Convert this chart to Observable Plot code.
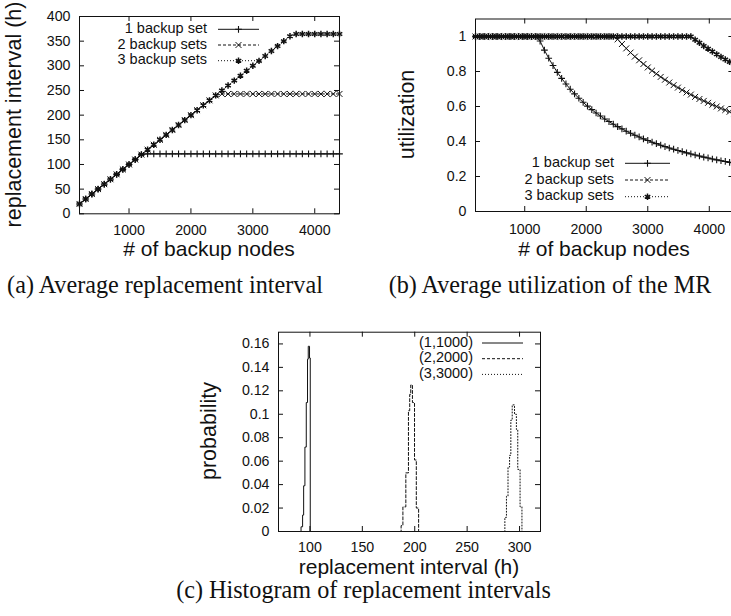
<!DOCTYPE html>
<html><head><meta charset="utf-8">
<script src="https://cdn.jsdelivr.net/npm/d3@7"></script>
<script src="https://cdn.jsdelivr.net/npm/@observablehq/plot@0.6"></script>
<style>
html,body{margin:0;padding:0;background:#fff;overflow:hidden;}
#page{position:relative;width:731px;height:616px;overflow:hidden;background:#fff;}
.panel{position:absolute;}
.panel svg{max-width:none !important;}
#overlay{position:absolute;left:0;top:0;}
</style></head><body><div id="page"></div>
<script>
// ---------- data: (a) average replacement interval ----------
const nodesA = [200,300,400,500,600,700,800,900,1000,1100,1200,1300,1400,1500,1600,1700,1800,1900,2000,2100,2200,2300,2400,2500,2600,2700,2800,2900,3000,3100,3200,3300,3400,3500,3600,3700,3800,3900,4000,4100,4200,4300,4400];
const intervalA1 = [20,30,40,50,60,70,80,90,100,110,120,121.5,121.5,121.5,121.5,121.5,121.5,121.5,121.5,121.5,121.5,121.5,121.5,121.5,121.5,121.5,121.5,121.5,121.5,121.5,121.5,121.5,121.5,121.5,121.5,121.5,121.5,121.5,121.5,121.5,121.5,121.5,121.5];
const intervalA2 = [20,30,40,50,60,70,80,90,100,110,120,130,140,150,160,170,180,190,200,210,220,230,240,243,243,243,243,243,243,243,243,243,243,243,243,243,243,243,243,243,243,243,243];
const intervalA3 = [20,30,40,50,60,70,80,90,100,110,120,130,140,150,160,170,180,190,200,210,220,230,240,250,260,270,280,290,300,310,320,330,340,350,360,364.5,364.5,364.5,364.5,364.5,364.5,364.5,364.5];
const xTicksA = [1000,2000,3000,4000];
const yTicksA = [0,50,100,150,200,250,300,350,400];

// ---------- data: (b) average utilization of the MR ----------
const nodesB = [200,270,340,410,480,550,620,690,760,830,900,970,1040,1110,1180,1250,1320,1390,1460,1530,1600,1670,1740,1810,1880,1950,2020,2090,2160,2230,2300,2370,2440,2510,2580,2650,2720,2790,2860,2930,3000,3070,3140,3210,3280,3350,3420,3490,3560,3630,3700,3770,3840,3910,3980,4050,4120,4190,4260,4330,4400];
const utilB1 = [1,1,1,1,1,1,1,1,1,1,1,1,1,1,1,0.974,0.922,0.876,0.834,0.795,0.761,0.729,0.699,0.672,0.647,0.624,0.602,0.582,0.563,0.546,0.529,0.514,0.499,0.485,0.472,0.459,0.447,0.436,0.426,0.415,0.406,0.396,0.388,0.379,0.371,0.363,0.356,0.349,0.342,0.335,0.329,0.323,0.317,0.311,0.306,0.300,0.295,0.290,0.286,0.281,0.277];
const utilB2 = [1,1,1,1,1,1,1,1,1,1,1,1,1,1,1,1,1,1,1,1,1,1,1,1,1,1,1,1,1,1,1,1,1,0.984,0.957,0.932,0.908,0.885,0.864,0.843,0.823,0.805,0.787,0.769,0.753,0.737,0.722,0.708,0.694,0.680,0.668,0.655,0.643,0.632,0.621,0.610,0.600,0.589,0.580,0.570,0.561];
const utilB3 = [1,1,1,1,1,1,1,1,1,1,1,1,1,1,1,1,1,1,1,1,1,1,1,1,1,1,1,1,1,1,1,1,1,1,1,1,1,1,1,1,1,1,1,1,1,1,1,1,1,1,1,0.981,0.964,0.946,0.930,0.914,0.898,0.883,0.869,0.855,0.841];
const xTicksB = [1000,2000,3000,4000];
const yTicksB = [0,0.2,0.4,0.6,0.8,1];

// ---------- data: (c) histogram of replacement intervals ----------
const histX1 = [90,91.5,93,94,95.2,96.5,97.7,98.4,99.6,100.3];
const histP1 = [0,0.004,0.014,0.039,0.072,0.110,0.147,0.158,0.148,0];
const histX2 = [185.5,187,188.7,191.5,194,195.2,196.2,197.8,199.8,201.5,203.7];
const histP2 = [0,0.005,0.021,0.050,0.103,0.117,0.125,0.110,0.061,0.020,0];
const histX3 = [283,286,287.5,289,290.5,291.7,293,295.2,297,298.3,300.5,302.3];
const histP3 = [0,0.012,0.030,0.055,0.065,0.095,0.108,0.100,0.087,0.053,0.021,0];
const xTicksC = [100,150,200,250,300];
const yTicksC = [0,0.02,0.04,0.06,0.08,0.1,0.12,0.14,0.16];

const seriesNamesAB = ["1 backup set","2 backup sets","3 backup sets"];
const seriesNamesC = ["(1,1000)","(2,2000)","(3,3000)"];

// ---------- styling ----------
const SANS = "'Liberation Sans', Arial, Helvetica, sans-serif";
const SERIF = "'Liberation Serif', 'Times New Roman', Times, serif";
const INK = "#111";
const TICKFONT = 14.2;
const styles = [
  {dash: null, symbol: "plus", r: 2.3, sw: 1.1},
  {dash: "3,2", symbol: "times", r: 2.8, sw: 1},
  {dash: "1,2", symbol: "asterisk", r: 3.0, sw: 1.5}
];
const symbolMap = {plus: d3.symbolPlus, times: d3.symbolTimes, asterisk: d3.symbolAsterisk};

const page = document.getElementById("page");

function rows(xs, ys) { return xs.map((x, i) => ({x, y: ys[i]})); }

function seriesMarks(xs, ys, st, withDots, curve) {
  const data = rows(xs, ys);
  const m = [Plot.line(data, {x: "x", y: "y", stroke: INK, strokeWidth: 1, strokeDasharray: st.dash || undefined, curve: curve || "linear"})];
  if (withDots) m.push(Plot.dot(data, {x: "x", y: "y", symbol: st.symbol, r: st.r, stroke: INK, strokeWidth: st.sw, fill: "none"}));
  return m;
}

function frameTicks(xt, yt, iw, ih, len) {
  return [
    Plot.tickX(xt, {x: d => d, insetTop: ih - len, stroke: INK}),
    Plot.tickX(xt, {x: d => d, insetBottom: ih - len, stroke: INK}),
    Plot.tickY(yt, {y: d => d, insetRight: iw - len, stroke: INK}),
    Plot.tickY(yt, {y: d => d, insetLeft: iw - len, stroke: INK})
  ];
}

function makePanel(left, top, cfg) {
  const iw = cfg.width - cfg.marginLeft - cfg.marginRight;
  const ih = cfg.height - cfg.marginTop - cfg.marginBottom;
  const svg = Plot.plot({
    width: cfg.width, height: cfg.height,
    marginLeft: cfg.marginLeft, marginRight: cfg.marginRight,
    marginTop: cfg.marginTop, marginBottom: cfg.marginBottom,
    x: {domain: cfg.xDomain},
    y: {domain: cfg.yDomain},
    style: {fontFamily: SANS, fontSize: TICKFONT + "px", color: INK, background: "transparent", overflow: "visible", maxWidth: "none"},
    marks: [
      Plot.axisX(cfg.xTicks, {tickSize: 0, tickPadding: cfg.xPad, tickFormat: d => String(d), label: null, fontSize: TICKFONT, fill: INK}),
      Plot.axisY(cfg.yTicks, {tickSize: 0, tickPadding: 9, tickFormat: d => String(d), label: null, fontSize: TICKFONT, fill: INK}),
      ...frameTicks(cfg.xTicks, cfg.yTicks, iw, ih, 5),
      ...cfg.marks,
      Plot.frame({stroke: INK, strokeWidth: 1})
    ]
  });
  const div = document.createElement("div");
  div.className = "panel";
  div.style.left = left + "px";
  div.style.top = top + "px";
  div.style.width = cfg.width + "px";
  div.style.height = cfg.height + "px";
  div.appendChild(svg);
  page.appendChild(div);
}

// (a)
makePanel(0, 0, {
  width: 360, height: 262, marginLeft: 79, marginRight: 21, marginTop: 16, marginBottom: 48.7,
  xDomain: [200, 4400], yDomain: [0, 400], xTicks: xTicksA, yTicks: yTicksA, xPad: 11,
  marks: [
    ...seriesMarks(nodesA, intervalA1, styles[0], true),
    ...seriesMarks(nodesA, intervalA2, styles[1], true),
    ...seriesMarks(nodesA, intervalA3, styles[2], true)
  ]
});

// (b)
makePanel(365, 0, {
  width: 400, height: 262, marginLeft: 110, marginRight: 31.6, marginTop: 18.5, marginBottom: 51,
  xDomain: [200, 4400], yDomain: [0, 1.1], xTicks: xTicksB, yTicks: yTicksB, xPad: 12.5,
  marks: [
    ...seriesMarks(nodesB, utilB1, styles[0], true),
    ...seriesMarks(nodesB, utilB2, styles[1], true),
    ...seriesMarks(nodesB, utilB3, styles[2], true)
  ]
});

// (c)
makePanel(180, 310, {
  width: 380, height: 260, marginLeft: 98, marginRight: 20, marginTop: 21.7, marginBottom: 39,
  xDomain: [70, 320], yDomain: [0, 0.17], xTicks: xTicksC, yTicks: yTicksC, xPad: 10.5,
  marks: [
    ...seriesMarks(histX1, histP1, styles[0], false, "step-after"),
    ...seriesMarks(histX2, histP2, styles[1], false, "step-after"),
    ...seriesMarks(histX3, histP3, styles[2], false, "step-after")
  ]
});

// ---------- overlay: titles, captions, legends ----------
const ov = d3.select(page).append("svg").attr("id", "overlay")
  .attr("width", 731).attr("height", 616).style("pointer-events", "none");

function label(txt, cx, cy, size, family, rotate, anchor) {
  const g = ov.append("g").attr("transform", `translate(${cx},${cy})` + (rotate ? " rotate(-90)" : ""));
  g.append("text").attr("x", 0).attr("y", 0.26 * size)
    .attr("text-anchor", anchor || "middle")
    .attr("font-family", family).attr("font-size", size).attr("fill", INK)
    .text(txt);
}

function legend(names, textEnd, x1, x2, ys, withMarkers) {
  names.forEach((name, i) => {
    const st = styles[i], y = ys[i];
    label(name, textEnd, y, 14.5, SANS, false, "end");
    ov.append("line").attr("x1", x1).attr("x2", x2).attr("y1", y).attr("y2", y)
      .attr("stroke", INK).attr("stroke-width", 1)
      .attr("stroke-dasharray", st.dash || null);
    if (withMarkers) {
      ov.append("path")
        .attr("d", d3.symbol(symbolMap[st.symbol], Math.PI * st.r * st.r)())
        .attr("transform", `translate(${(x1 + x2) / 2},${y})`)
        .attr("fill", "none").attr("stroke", INK).attr("stroke-width", st.sw);
    }
  });
}

// (a)
label("replacement interval (h)", 15, 114.5, 21.5, SANS, true);
label("# of backup nodes", 209, 251, 21, SANS, false);
label("(a)  Average replacement interval", 165, 287, 24.2, SERIF, false);
legend(seriesNamesAB, 207, 218, 259, [29.3, 45, 60.7], true);

// (b)
label("utilization", 408, 114.5, 21.5, SANS, true);
label("# of backup nodes", 604, 251, 21, SANS, false);
label("(b)  Average utilization of the MR", 550, 287, 24.2, SERIF, false);
legend(seriesNamesAB, 614, 625, 670, [163.3, 180, 196.7], true);

// (c)
label("probability", 210, 431, 21.5, SANS, true);
label("replacement interval (h)", 409, 568.5, 21, SANS, false);
label("(c)  Histogram of replacement intervals", 363.5, 592, 24.2, SERIF, false);
legend(seriesNamesC, 473, 482, 523, [343, 358.7, 374.4], false);
</script></body></html>
